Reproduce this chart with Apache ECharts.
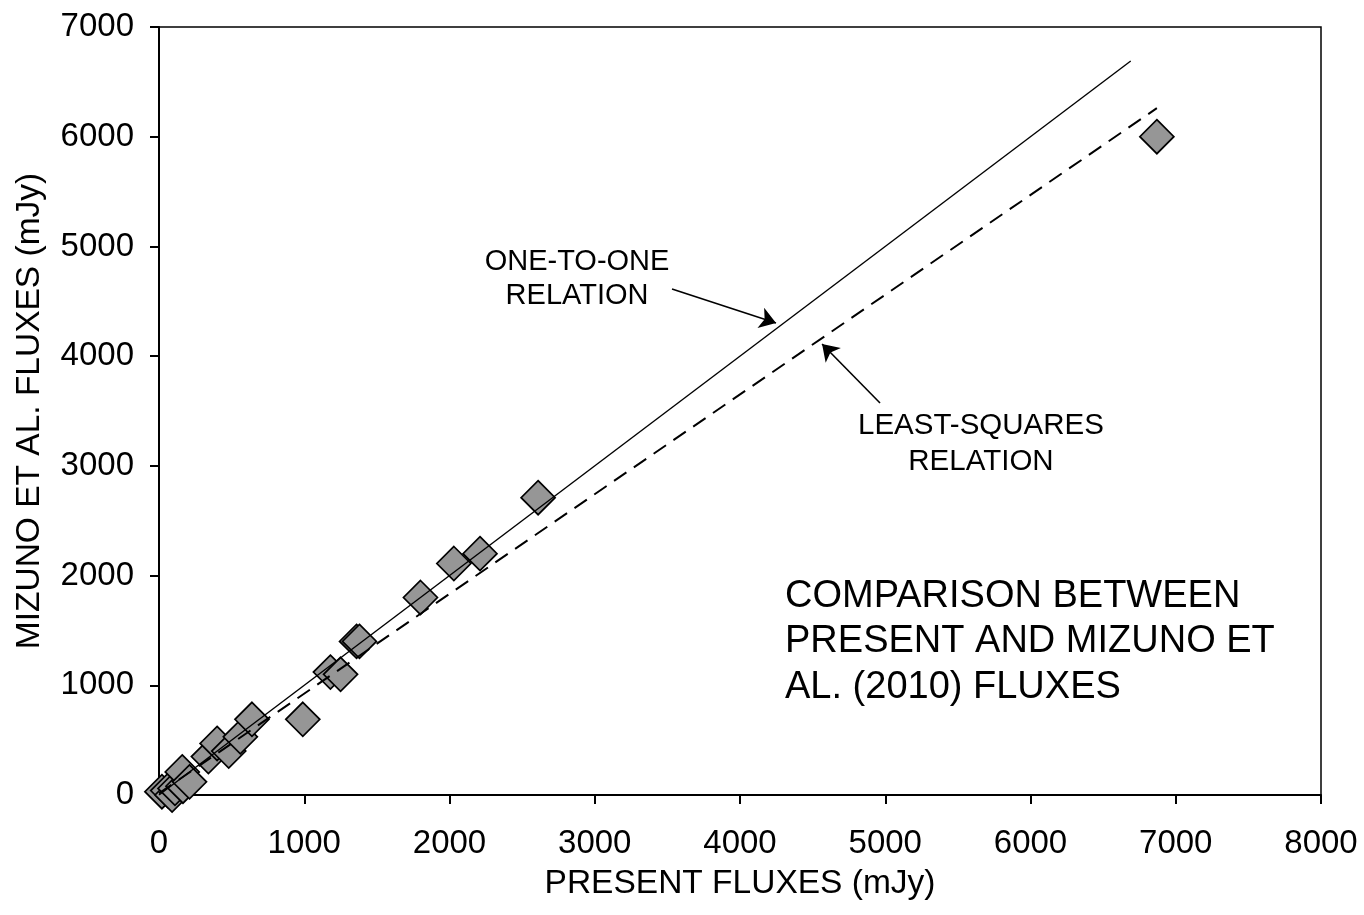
<!DOCTYPE html>
<html>
<head>
<meta charset="utf-8">
<script src="https://cdn.jsdelivr.net/npm/echarts@6/dist/echarts.min.js"></script>
<style>
  html, body { margin: 0; padding: 0; background: #fff; }
  #chart { width: 1364px; height: 915px; }
</style>
</head>
<body>
<div id="chart"></div>
<script>
// Flux pairs: present flux (mJy) vs Mizuno et al. (2010) flux (mJy)
const presentFlux = [20, 60, 90, 110, 165, 160, 210, 340, 400, 480, 560, 640, 990, 1180, 1250, 1360, 1380, 1800, 2030, 2210, 2610, 6870];
const mizunoFlux  = [30, 40, 0, 60, 80, 210, 120, 350, 470, 400, 530, 690, 690, 1120, 1100, 1400, 1400, 1800, 2110, 2200, 2710, 6000];

// Reference relations (endpoints in data units)
const oneToOneX = [0, 6690];
const oneToOneY = [0, 6690];
const leastSqX = [0, 6870];
const leastSqY = [15, 6260];

// Axis ranges and ticks
const xTicks = [0, 1000, 2000, 3000, 4000, 5000, 6000, 7000, 8000];
const yTicks = [0, 1000, 2000, 3000, 4000, 5000, 6000, 7000];

// Callout arrows: [fromX, fromY, toX, toY]
const arrowOneToOne = [3532, 4613, 4248, 4303];
const arrowLeastSq  = [4964, 3573, 4565, 4111];

const FONT = 'Liberation Sans, Arial, sans-serif';

const chart = echarts.init(document.getElementById('chart'), null, { renderer: 'canvas' });

const points = presentFlux.map((x, i) => [x, mizunoFlux[i]]);
const plain = (v) => String(v);

chart.setOption({
  animation: false,
  backgroundColor: '#fff',
  grid: {
    left: 159, right: 43, top: 27, bottom: 120,
    show: true, borderColor: '#000', borderWidth: 1.5, backgroundColor: 'transparent'
  },
  xAxis: {
    type: 'value',
    min: xTicks[0], max: xTicks[xTicks.length - 1], interval: 1000,
    name: 'PRESENT FLUXES (mJy)',
    nameLocation: 'middle', nameGap: 72,
    nameTextStyle: { fontFamily: FONT, fontSize: 33.5, color: '#000' },
    axisLine: { show: true, lineStyle: { color: '#000', width: 2 } },
    axisTick: { show: true, inside: false, length: 9, lineStyle: { color: '#000', width: 2 } },
    axisLabel: { fontFamily: FONT, fontSize: 33, color: '#000', margin: 32, formatter: plain },
    splitLine: { show: false }
  },
  yAxis: {
    type: 'value',
    min: yTicks[0], max: yTicks[yTicks.length - 1], interval: 1000,
    name: 'MIZUNO ET AL. FLUXES (mJy)',
    nameLocation: 'middle', nameGap: 112, nameRotate: 90,
    nameTextStyle: { fontFamily: FONT, fontSize: 33.5, color: '#000' },
    axisLine: { show: true, lineStyle: { color: '#000', width: 2 } },
    axisTick: { show: true, inside: false, length: 9, lineStyle: { color: '#000', width: 2 } },
    axisLabel: { fontFamily: FONT, fontSize: 33, color: '#000', margin: 25, formatter: plain },
    splitLine: { show: false }
  },
  series: [
    {
      type: 'scatter',
      data: points,
      symbol: 'diamond',
      symbolSize: 34,
      itemStyle: { color: '#969696', borderColor: '#000', borderWidth: 1.7, opacity: 1 },
      z: 2
    },
    {
      type: 'line',
      data: oneToOneX.map((x, i) => [x, oneToOneY[i]]),
      showSymbol: false, symbol: 'none',
      lineStyle: { color: '#000', width: 1.4 },
      z: 3
    },
    {
      type: 'line',
      data: leastSqX.map((x, i) => [x, leastSqY[i]]),
      showSymbol: false, symbol: 'none',
      lineStyle: { color: '#000', width: 2, type: [15, 9] },
      z: 3
    },
    {
      type: 'lines',
      coordinateSystem: 'cartesian2d',
      symbol: ['none', 'arrow'],
      symbolSize: [0, 16],
      lineStyle: { color: '#000', width: 1.6, opacity: 1 },
      data: [
        { coords: [[arrowOneToOne[0], arrowOneToOne[1]], [arrowOneToOne[2], arrowOneToOne[3]]] },
        { coords: [[arrowLeastSq[0], arrowLeastSq[1]], [arrowLeastSq[2], arrowLeastSq[3]]] }
      ],
      z: 4
    }
  ]
});

// Annotation text placed from data coordinates
const toPx = (pt) => chart.convertToPixel({ gridIndex: 0 }, pt);
const pOne = toPx([2878, 4704]);
const pLsq = toPx([5659, 3200]);
const pCmp = toPx([4310, 1395]);

chart.setOption({
  graphic: [
    {
      type: 'text', x: pOne[0], y: pOne[1],
      style: { text: 'ONE-TO-ONE\nRELATION', fontFamily: FONT, fontSize: 29, lineHeight: 34,
               fill: '#000', align: 'center', verticalAlign: 'middle' }
    },
    {
      type: 'text', x: pLsq[0], y: pLsq[1],
      style: { text: 'LEAST-SQUARES\nRELATION', fontFamily: FONT, fontSize: 29.5, lineHeight: 36,
               fill: '#000', align: 'center', verticalAlign: 'middle' }
    },
    {
      type: 'text', x: pCmp[0], y: pCmp[1],
      style: { text: 'COMPARISON BETWEEN\nPRESENT AND MIZUNO ET\nAL. (2010) FLUXES', fontFamily: FONT,
               fontSize: 38, lineHeight: 45.5, fill: '#000', align: 'left', verticalAlign: 'middle' }
    }
  ]
});
</script>
</body>
</html>
